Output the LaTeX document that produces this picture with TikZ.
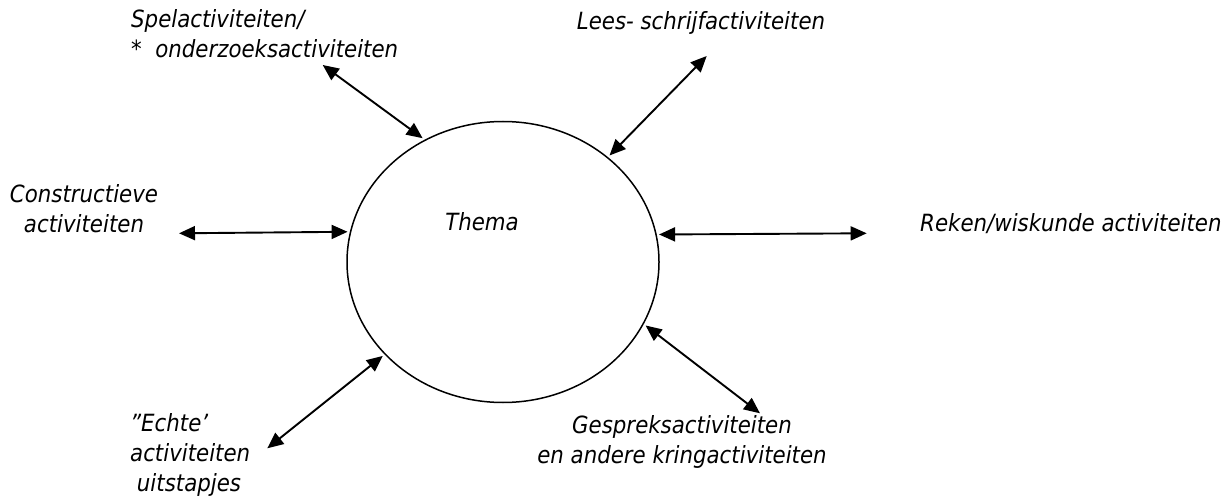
\documentclass[tikz,border=0pt]{standalone}
\usepackage{fontspec}
\setmainfont{DejaVu Sans Condensed}[ItalicFont={DejaVu Sans Condensed Oblique}]
\usetikzlibrary{positioning}
\usetikzlibrary{shapes.geometric,arrows.meta}

\begin{document}
\begin{tikzpicture}[x=1pt,y=-1pt,lbl node/.style={font=\itshape\fontsize{23.7}{30}\selectfont,inner sep=0},theme node/.style={shape=ellipse,draw=black,line width=1.5pt,minimum width=312pt,minimum height=281pt,inner sep=0,outer sep=3pt},link/.style={line width=1.9pt,{Triangle[length=16pt,width=14pt]}-{Triangle[length=16pt,width=14pt]}}, ]
		\useasboundingbox (0,0) rectangle (1229,497);
		\node[theme node] (thema) at (503,262){};
		\node[lbl node,anchor=base] (themaText) at (482,231){Thema};
		%activity labels
		\node[lbl node,anchor=base west,align=left] (spel) at (131,58){Spelactiviteiten/\\*\ \ onderzoeksactiviteiten};
		\node[lbl node,anchor=base] (lees) at (701,30){Lees- schrijfactiviteiten};
		\node[lbl node,anchor=base,align=center] (constr) at (84,233){Constructieve\\activiteiten};
		\node[lbl node,anchor=base west] (reken) at (920,232){Reken/wiskunde activiteiten};
		\node[lbl node,anchor=base,align=center] (gesprek) at (682,463){Gespreksactiviteiten\\en andere kringactiviteiten};
		\node[lbl node,anchor=base west,align=left] (echte) at (130,491){"Echte’\\activiteiten\\\ uitstapjes};
		%free arrow ends
		\coordinate (spelEnd) at (322.7,65);
		\coordinate (leesEnd) at (706.7,56);
		\coordinate (constrEnd) at (179,233.3);
		\coordinate (rekenEnd) at (866.7,233.3);
		\coordinate (gesprekEnd) at (760,413.3);
		\coordinate (echteEnd) at (267.3,448.3);
		%arrows
		\path[link] (spelEnd) edge (thema.123.5);
		\path[link] (leesEnd) edge (thema.45.7);
		\path[link] (constrEnd) edge (thema.169.6);
		\path[link] (rekenEnd) edge (thema.10.5);
		\path[link] (gesprekEnd) edge (thema.-24.4);
		\path[link] (echteEnd) edge (thema.218.2);
		
		
		\end{tikzpicture}
\end{document}
